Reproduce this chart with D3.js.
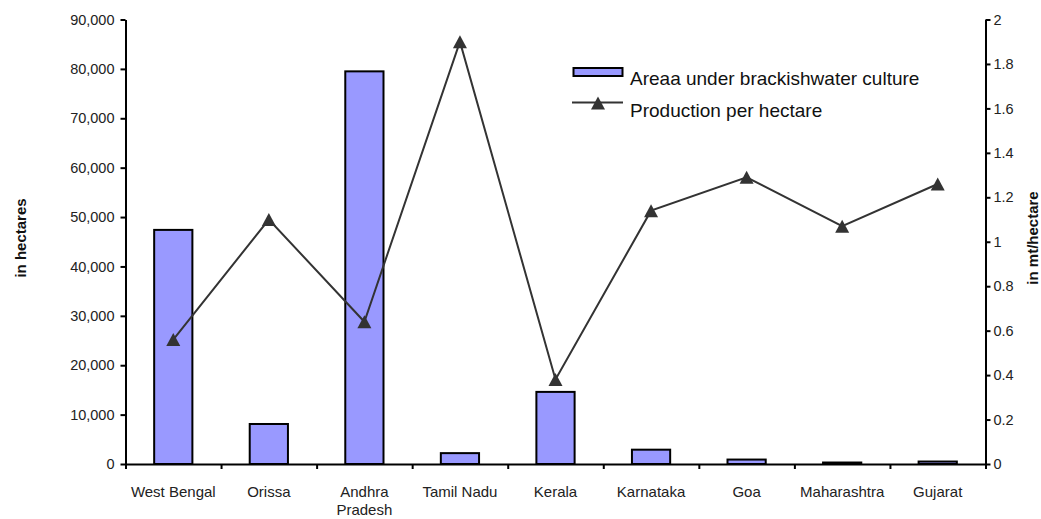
<!DOCTYPE html>
<html>
<head>
<meta charset="utf-8">
<script src="https://cdn.jsdelivr.net/npm/d3@7"></script>
<style>
  html, body { margin: 0; padding: 0; background: #fff; }
  svg { display: block; font-family: "Liberation Sans", Arial, sans-serif; }
</style>
</head>
<body>
<svg id="chart" width="1041" height="519"></svg>
<script>
// Brackishwater aquaculture by state
const categories = ["West Bengal", "Orissa", "Andhra Pradesh", "Tamil Nadu", "Kerala",
                    "Karnataka", "Goa", "Maharashtra", "Gujarat"];
const areaHectares = [47400, 8100, 79500, 2200, 14600, 2900, 900, 300, 500];
const productionPerHectare = [0.56, 1.1, 0.64, 1.9, 0.38, 1.14, 1.29, 1.07, 1.26];
const leftTicks = [0, 10000, 20000, 30000, 40000, 50000, 60000, 70000, 80000, 90000];
const rightTicks = [0, 0.2, 0.4, 0.6, 0.8, 1, 1.2, 1.4, 1.6, 1.8, 2];
const seriesNames = ["Areaa under brackishwater culture", "Production per hectare"];
const axisTitles = ["in hectares", "in mt/hectare"];

const svg = d3.select("#chart");
const plot = { left: 125.5, right: 985.5, top: 19.5, bottom: 464 };

const x = d3.scaleBand().domain(categories).range([plot.left, plot.right]);
const yLeft = d3.scaleLinear().domain([0, 90000]).range([plot.bottom, plot.top]);
const yRight = d3.scaleLinear().domain([0, 2]).range([plot.bottom, plot.top]);
const boundary = d3.scaleLinear().domain([0, categories.length]).range([plot.left, plot.right]);

const barColor = "#9999ff";
const lineColor = "#333333";
const barWidth = x.bandwidth() * 0.4;

// Bars
svg.append("g").selectAll("rect")
  .data(categories)
  .join("rect")
  .attr("x", d => x(d) + (x.bandwidth() - barWidth) / 2)
  .attr("y", (d, i) => yLeft(areaHectares[i]))
  .attr("width", barWidth)
  .attr("height", (d, i) => plot.bottom - yLeft(areaHectares[i]))
  .attr("fill", barColor)
  .attr("stroke", "#000")
  .attr("stroke-width", 2);

// Left axis
const gLeft = svg.append("g")
  .attr("transform", `translate(${plot.left},0)`)
  .call(d3.axisLeft(yLeft).tickValues(leftTicks).tickFormat(d3.format(",")).tickSize(5).tickSizeOuter(0).tickPadding(6));

// Right axis
const gRight = svg.append("g")
  .attr("transform", `translate(${plot.right},0)`)
  .call(d3.axisRight(yRight).tickValues(rightTicks).tickFormat(d => String(d)).tickSize(5).tickSizeOuter(0).tickPadding(3));

// Bottom axis: tick marks at category boundaries
const gBottom = svg.append("g")
  .attr("transform", `translate(0,${plot.bottom})`)
  .call(d3.axisBottom(boundary).tickValues(d3.range(categories.length + 1)).tickFormat("").tickSize(5).tickSizeOuter(0));

[gLeft, gRight, gBottom].forEach(g => {
  g.select(".domain").attr("stroke", "#000").attr("stroke-width", 2);
  g.selectAll(".tick line").attr("stroke", "#000").attr("stroke-width", 2);
  g.selectAll(".tick text").attr("fill", "#222").style("font-size", "14.5px")
    .style("font-family", "'Liberation Sans', Arial, sans-serif");
});

// Category labels, wrapped to the band width
const labels = svg.append("g").selectAll("text")
  .data(categories)
  .join("text")
  .attr("x", d => x(d) + x.bandwidth() / 2)
  .attr("y", 497)
  .attr("text-anchor", "middle")
  .attr("fill", "#222")
  .style("font-size", "15px");

labels.each(function(d) {
  const t = d3.select(this);
  const words = d.split(" ");
  const cx = x(d) + x.bandwidth() / 2;
  let lines = [[]];
  words.forEach(w => {
    const cur = lines[lines.length - 1];
    cur.push(w);
    t.text(cur.join(" "));
    if (this.getComputedTextLength() > x.bandwidth() - 4 && cur.length > 1) {
      cur.pop();
      lines.push([w]);
    }
  });
  t.text(null);
  lines.forEach((ln, k) => {
    t.append("tspan").attr("x", cx).attr("dy", k === 0 ? 0 : 18).text(ln.join(" "));
  });
});

// Line series
const line = d3.line()
  .x((d, i) => x(categories[i]) + x.bandwidth() / 2)
  .y(d => yRight(d));

svg.append("path")
  .datum(productionPerHectare)
  .attr("d", line)
  .attr("fill", "none")
  .attr("stroke", lineColor)
  .attr("stroke-width", 2);

const triW = 14, triH = 13;
const triangle = `M0,${-triH / 2}L${triW / 2},${triH / 2}L${-triW / 2},${triH / 2}Z`;

svg.append("g").selectAll("path")
  .data(productionPerHectare)
  .join("path")
  .attr("transform", (d, i) => `translate(${x(categories[i]) + x.bandwidth() / 2},${yRight(d)})`)
  .attr("d", triangle)
  .attr("fill", lineColor);

// Axis titles
svg.append("text")
  .attr("transform", "translate(26,238) rotate(-90)")
  .attr("text-anchor", "middle")
  .style("font-size", "15px").style("font-weight", "bold")
  .attr("fill", "#111")
  .text(axisTitles[0]);

svg.append("text")
  .attr("transform", "translate(1038,238) rotate(-90)")
  .attr("text-anchor", "middle")
  .style("font-size", "15px").style("font-weight", "bold")
  .attr("fill", "#111")
  .text(axisTitles[1]);

// Legend
const legend = svg.append("g");
legend.append("rect")
  .attr("x", 573.5).attr("y", 68).attr("width", 49).attr("height", 8)
  .attr("fill", barColor).attr("stroke", "#000").attr("stroke-width", 2);
legend.append("text")
  .attr("x", 630).attr("y", 85)
  .style("font-size", "19px").attr("fill", "#111")
  .text(seriesNames[0]);
legend.append("line")
  .attr("x1", 572).attr("x2", 623).attr("y1", 102.5).attr("y2", 102.5)
  .attr("stroke", lineColor).attr("stroke-width", 2);
legend.append("path")
  .attr("transform", "translate(598,103)")
  .attr("d", triangle)
  .attr("fill", lineColor);
legend.append("text")
  .attr("x", 630).attr("y", 116.5)
  .style("font-size", "19px").attr("fill", "#111")
  .text(seriesNames[1]);
</script>
</body>
</html>
